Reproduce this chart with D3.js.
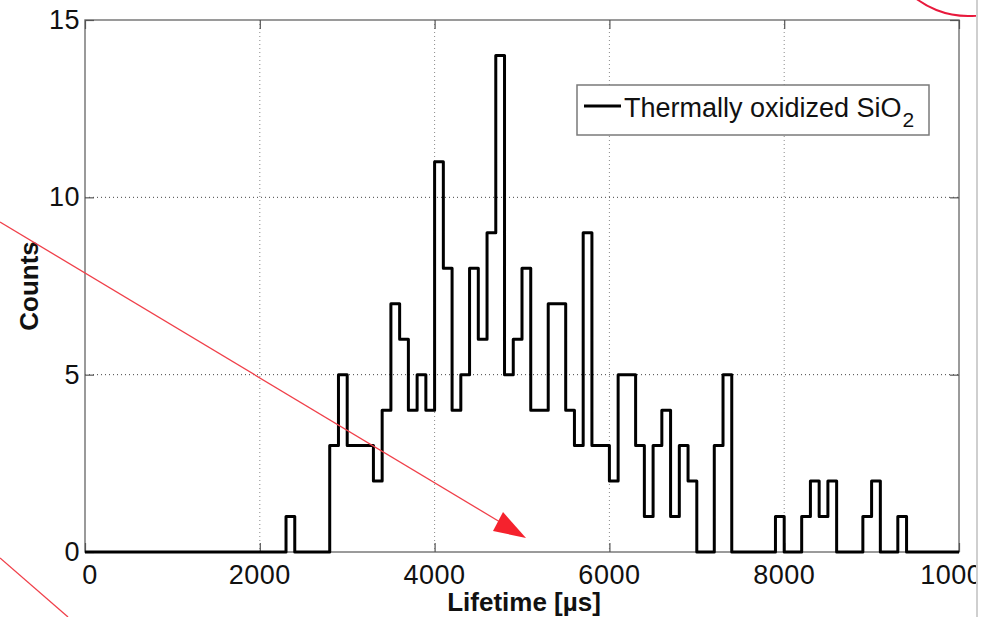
<!DOCTYPE html>
<html>
<head>
<meta charset="utf-8" />
<script src="https://d3js.org/d3.v7.min.js"></script>
<style>
  body { margin: 0; background: #fff; }
  svg { display: block; }
  text { font-family: "Liberation Sans", Arial, sans-serif; fill: #111; }
</style>
</head>
<body>
<div id="visu"></div>
<script>
// histogram bins: 100 us wide, from 0 to 10000 us
const binWidth = 100;
const binStarts = d3.range(0, 10000, binWidth);
// counts per bin
const counts = [
  0,0,0,0,0,0,0,0,0,0,            // 0 - 900
  0,0,0,0,0,0,0,0,0,0,            // 1000 - 1900
  0,0,0,1,0,0,0,0,3,5,            // 2000 - 2900
  3,3,3,2,4,7,6,4,5,4,            // 3000 - 3900
  11,8,4,5,8,6,9,14,5,6,          // 4000 - 4900
  8,4,4,7,7,4,3,9,3,3,            // 5000 - 5900
  2,5,5,3,1,3,4,1,3,2,            // 6000 - 6900
  0,0,3,5,0,0,0,0,0,1,            // 7000 - 7900
  0,0,1,2,1,2,0,0,0,1,            // 8000 - 8900
  2,0,0,1,0,0,0,0,0,0             // 9000 - 9900
];
const xTicks = [0, 2000, 4000, 6000, 8000, 10000];
const yTicks = [0, 5, 10, 15];
const seriesName = "Thermally oxidized SiO";
const seriesSub = "2";

const W = 988, H = 617;
const mLeft = 85, mRight = 959, mTop = 20, mBottom = 552;

const svg = d3.select("#visu").append("svg")
  .attr("width", W).attr("height", H);

svg.append("defs").append("clipPath").attr("id", "pageclip")
  .append("rect").attr("x", 0).attr("y", 0).attr("width", 976).attr("height", H);

const root = svg.append("g").attr("clip-path", "url(#pageclip)");

const x = d3.scaleLinear().domain([0, 10000]).range([mLeft, mRight]);
const y = d3.scaleLinear().domain([0, 15]).range([mBottom, mTop]);

// grille pointillée
root.append("g").selectAll("line")
  .data(xTicks.slice(1, -1))
  .enter().append("line")
  .attr("x1", d => x(d)).attr("x2", d => x(d))
  .attr("y1", mTop).attr("y2", mBottom)
  .attr("stroke", "#8a8a8a").attr("stroke-width", 1)
  .attr("stroke-dasharray", "1,3");

root.append("g").selectAll("line")
  .data(yTicks.slice(1, -1))
  .enter().append("line")
  .attr("x1", mLeft).attr("x2", mRight)
  .attr("y1", d => y(d)).attr("y2", d => y(d))
  .attr("stroke", "#444").attr("stroke-width", 1)
  .attr("stroke-dasharray", "1,3");

// cadre
root.append("rect")
  .attr("x", mLeft).attr("y", mTop)
  .attr("width", mRight - mLeft).attr("height", mBottom - mTop)
  .attr("fill", "none").attr("stroke", "#7a7a7a").attr("stroke-width", 1.5);

// ticks vers l'intérieur sur les 4 côtés
const tickLen = 9;
const bottomAxis = root.append("g").attr("transform", `translate(0,${mBottom})`)
  .call(d3.axisBottom(x).tickValues(xTicks).tickSize(-tickLen).tickFormat(""));
const topAxis = root.append("g").attr("transform", `translate(0,${mTop})`)
  .call(d3.axisTop(x).tickValues(xTicks).tickSize(-tickLen).tickFormat(""));
const leftAxis = root.append("g").attr("transform", `translate(${mLeft},0)`)
  .call(d3.axisLeft(y).tickValues(yTicks).tickSize(-tickLen).tickFormat(""));
const rightAxis = root.append("g").attr("transform", `translate(${mRight},0)`)
  .call(d3.axisRight(y).tickValues(yTicks).tickSize(-tickLen).tickFormat(""));
[bottomAxis, topAxis, leftAxis, rightAxis].forEach(a => {
  a.select(".domain").remove();
  a.selectAll("line").attr("stroke", "#555").attr("stroke-width", 1.2);
});

// labels des ticks
root.append("g").selectAll("text")
  .data(xTicks).enter().append("text")
  .attr("x", d => x(d) + (d === 0 ? 5 : 0))
  .attr("y", mBottom + 32)
  .attr("text-anchor", "middle")
  .style("font-size", "27px")
  .style("letter-spacing", "0.5px")
  .text(d => d);

root.append("g").selectAll("text")
  .data(yTicks).enter().append("text")
  .attr("x", mLeft - 5)
  .attr("y", d => y(d) + 9)
  .attr("text-anchor", "end")
  .style("font-size", "27px")
  .style("letter-spacing", "0.5px")
  .text(d => d);

// titres des axes
root.append("text")
  .attr("x", (mLeft + mRight) / 2 + 2)
  .attr("y", 611)
  .attr("text-anchor", "middle")
  .style("font-size", "26px").style("font-weight", "bold")
  .text("Lifetime [\u00b5s]");

root.append("text")
  .attr("transform", `translate(38,${(mTop + mBottom) / 2}) rotate(-90)`)
  .attr("text-anchor", "middle")
  .style("font-size", "26px").style("font-weight", "bold")
  .text("Counts");

// histogramme en escalier
const stepData = binStarts.map((b, i) => ({ x: b, c: counts[i] }));
stepData.push({ x: 10000, c: counts[counts.length - 1] });
const line = d3.line()
  .x(d => x(d.x))
  .y(d => y(d.c))
  .curve(d3.curveStepAfter);

root.append("path")
  .datum(stepData)
  .attr("d", line)
  .attr("fill", "none")
  .attr("stroke", "#000")
  .attr("stroke-width", 3)
  .attr("stroke-linejoin", "round");

// légende
const lg = root.append("g");
lg.append("rect")
  .attr("x", 577).attr("y", 85).attr("width", 352).attr("height", 50)
  .attr("fill", "#fff").attr("stroke", "#7a7a7a").attr("stroke-width", 1.5);
lg.append("line")
  .attr("x1", 584).attr("x2", 621).attr("y1", 106).attr("y2", 106)
  .attr("stroke", "#000").attr("stroke-width", 3);
const lt = lg.append("text")
  .attr("x", 624).attr("y", 117)
  .style("font-size", "27px");
lt.append("tspan").text(seriesName);
lt.append("tspan").attr("dy", 10).attr("dx", 1).style("font-size", "21px").text(seriesSub);

// annotations rouges par-dessus l'image
const red = "#f0404a";
root.append("line")
  .attr("x1", 0).attr("y1", 222).attr("x2", 505).attr("y2", 525)
  .attr("stroke", red).attr("stroke-width", 1.3);
root.append("path")
  .attr("d", "M526,538 L493,531 L503,512 Z")
  .attr("fill", "#f5222d");
root.append("line")
  .attr("x1", 0).attr("y1", 558).attr("x2", 68).attr("y2", 617)
  .attr("stroke", red).attr("stroke-width", 1.3);
root.append("circle")
  .attr("cx", 968).attr("cy", -70).attr("r", 86)
  .attr("fill", "none").attr("stroke", "#e8193c").attr("stroke-width", 2);

// bord droit gris de la capture
svg.append("line")
  .attr("x1", 977).attr("x2", 977).attr("y1", 0).attr("y2", H)
  .attr("stroke", "#cfcfcf").attr("stroke-width", 2);
</script>
</body>
</html>
